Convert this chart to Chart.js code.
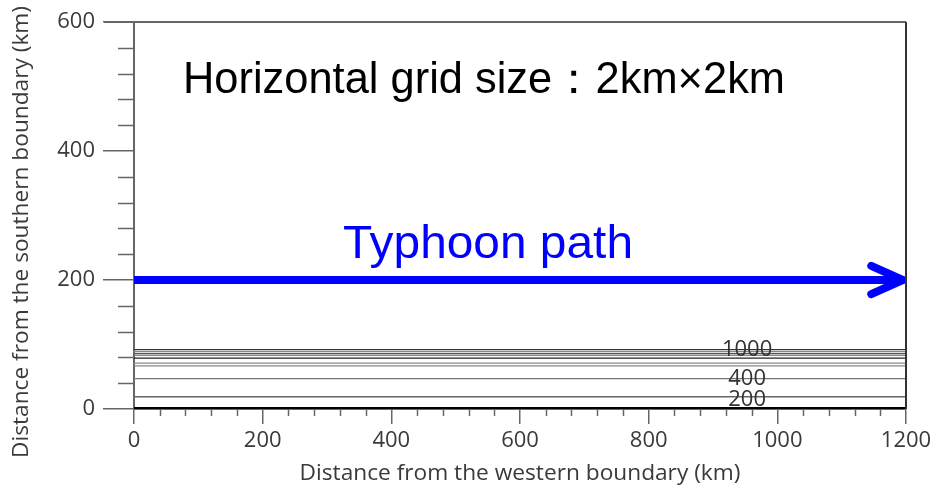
<!DOCTYPE html>
<html>
<head>
<meta charset="utf-8">
<script src="https://cdn.jsdelivr.net/npm/chart.js@4/dist/chart.umd.min.js"></script>
<style>
  html, body { margin: 0; padding: 0; background: #fff; }
  #wrap { width: 940px; height: 489px; }
</style>
</head>
<body>
<div id="wrap"><canvas id="myChart"></canvas></div>
<script>
// depth contour lines (km from southern boundary)
const contourY = [92, 89, 86, 83, 79, 71, 67, 47, 19];
const contourShade = ['#333', '#888', '#555', '#888', '#222', '#888', '#888', '#777', '#666'];
const contourLabels = ['1000', '400', '200'];
const contourLabelLine = [0, 7, 8];
const contourLabelX = 953;

// typhoon path
const pathX = [0, 1195];
const pathY = [200, 200];
const headX = [1146, 1195, 1146];
const headY = [222, 200, 178];

// coastline
const coastX = [0, 1200];
const coastY = [0, 0];

const xTicks = [0, 200, 400, 600, 800, 1000, 1200];
const yTicks = [0, 200, 400, 600];

const xTitle = 'Distance from the western boundary (km)';
const yTitle = 'Distance from the southern boundary (km)';

const axisFont = { family: 'Open Sans', size: 22 };
const titleFont = { family: 'Open Sans', size: 22.7 };

const toPts = (xs, ys) => xs.map((x, i) => ({ x: x, y: ys[i] }));

const datasets = [];
contourY.forEach((v, i) => {
  datasets.push({
    data: toPts(coastX, [v, v]),
    borderColor: contourShade[i],
    borderWidth: 1.3,
    pointRadius: 0
  });
});
datasets.push({
  data: toPts(coastX, coastY),
  borderColor: '#000',
  borderWidth: 4,
  pointRadius: 0
});
datasets.push({
  data: toPts(pathX, pathY),
  borderColor: '#0000ff',
  borderWidth: 8,
  borderCapStyle: 'butt',
  pointRadius: 0
});
datasets.push({
  data: toPts(headX, headY),
  borderColor: '#0000ff',
  borderWidth: 8,
  borderCapStyle: 'round',
  borderJoinStyle: 'miter',
  pointRadius: 0
});

const extras = {
  id: 'extras',
  afterDatasetsDraw(chart) {
    const { ctx, chartArea: a, scales: { x, y } } = chart;
    ctx.save();
    // frame top / right
    ctx.lineWidth = 2;
    ctx.strokeStyle = '#666';
    ctx.beginPath();
    ctx.moveTo(a.left - 30, a.top);
    ctx.lineTo(a.right, a.top);
    ctx.stroke();
    ctx.strokeStyle = '#333';
    ctx.beginPath();
    ctx.moveTo(a.right, a.top);
    ctx.lineTo(a.right, a.bottom);
    ctx.stroke();
    // minor ticks
    ctx.strokeStyle = '#666';
    ctx.lineWidth = 1.5;
    for (let v = 40; v < 1200; v += 40) {
      if (v % 200 === 0) continue;
      const px = Math.round(x.getPixelForValue(v)) + 0.5;
      ctx.beginPath();
      ctx.moveTo(px, a.bottom);
      ctx.lineTo(px, a.bottom + 7);
      ctx.stroke();
    }
    for (let v = 40; v < 600; v += 40) {
      if (v % 200 === 0) continue;
      const py = Math.round(y.getPixelForValue(v)) + 0.5;
      ctx.beginPath();
      ctx.moveTo(a.left - 16, py);
      ctx.lineTo(a.left, py);
      ctx.stroke();
    }
    // contour labels
    const nudge = [0, 0, 3];
    ctx.fillStyle = '#333';
    ctx.font = '22px "Open Sans"';
    ctx.textAlign = 'center';
    ctx.textBaseline = 'middle';
    contourLabels.forEach((t, i) => {
      const v = contourY[contourLabelLine[i]];
      ctx.fillText(t, x.getPixelForValue(contourLabelX), y.getPixelForValue(v) + nudge[i]);
    });
    // y axis title
    ctx.save();
    ctx.translate(22, 232);
    ctx.rotate(-Math.PI / 2);
    ctx.font = titleFont.size + 'px "Open Sans"';
    ctx.fillStyle = '#3a3a3a';
    ctx.fillText(yTitle, 0, 0);
    ctx.restore();
    // annotation texts
    const fitText = (t, left, base, width, font, color) => {
      ctx.font = font;
      ctx.fillStyle = color;
      ctx.textAlign = 'left';
      ctx.textBaseline = 'alphabetic';
      const w = ctx.measureText(t).width;
      ctx.save();
      ctx.translate(left, base);
      ctx.scale(width / w, 1);
      ctx.fillText(t, 0, 0);
      ctx.restore();
    };
    fitText('Horizontal grid size\uFF1A2km\u00D72km', 183, 93, 602, '44px "Liberation Sans"', '#000');
    fitText('Typhoon path', 343, 258, 290, '46px "Liberation Sans"', '#0000ff');
    ctx.restore();
  }
};

new Chart(document.getElementById('myChart'), {
  type: 'line',
  data: { datasets: datasets },
  plugins: [extras],
  options: {
    responsive: true,
    maintainAspectRatio: false,
    animation: false,
    layout: { padding: { top: 22, right: 34, left: 0, bottom: 0 } },
    plugins: { legend: { display: false }, tooltip: { enabled: false } },
    scales: {
      x: {
        type: 'linear',
        min: 0, max: 1200,
        afterBuildTicks: s => { s.ticks = xTicks.map(v => ({ value: v })); },
        afterFit: s => { s.height = 80; },
        ticks: { font: axisFont, color: '#3a3a3a', padding: 4, maxRotation: 0, callback: v => String(v) },
        grid: { drawOnChartArea: false, tickLength: 15, color: '#666', lineWidth: 1.5 },
        border: { color: '#666', width: 2 },
        title: { display: true, text: xTitle, font: titleFont, color: '#3a3a3a', padding: { top: 0, bottom: 2 } }
      },
      y: {
        type: 'linear',
        min: 0, max: 600,
        afterBuildTicks: s => { s.ticks = yTicks.map(v => ({ value: v })); },
        afterFit: s => { s.width = 134; },
        ticks: { font: axisFont, color: '#3a3a3a', padding: 8, callback: v => String(v) },
        grid: { drawOnChartArea: false, tickLength: 31, color: '#666', lineWidth: 1.5 },
        border: { color: '#666', width: 2 },
        title: { display: false }
      }
    }
  }
});
</script>
</body>
</html>
